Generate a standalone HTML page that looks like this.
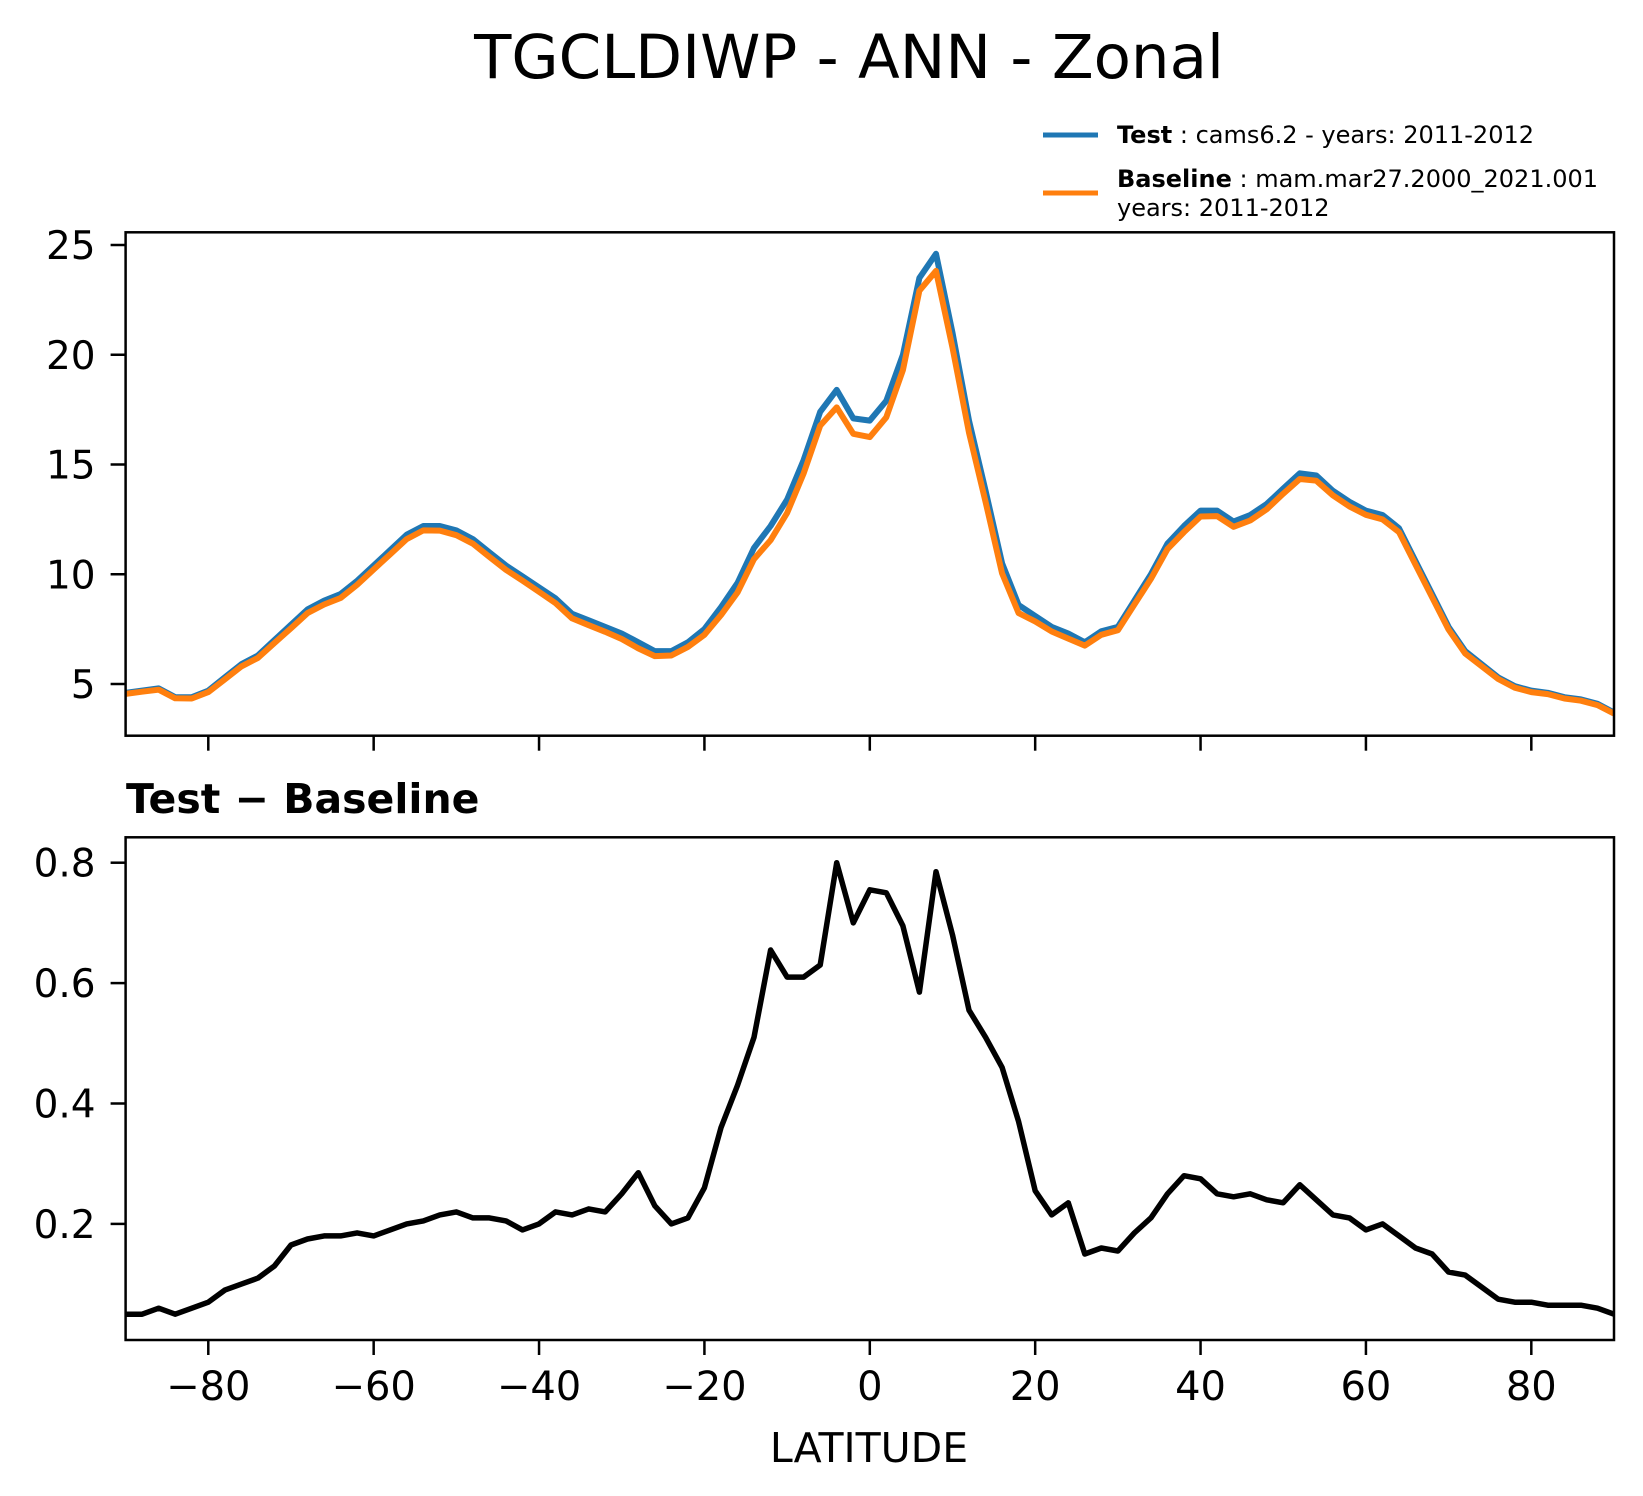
<!DOCTYPE html>
<html><head><meta charset="utf-8"><style>
html,body{margin:0;padding:0;background:#fff;}
svg{display:block;font-family:"DejaVu Sans","Liberation Sans",sans-serif;}
</style></head><body>
<svg id="fig" width="1643" height="1496" viewBox="0 0 1643 1496">
<text x="849" y="78" font-size="61" text-anchor="middle">TGCLDIWP - ANN - Zonal</text>
<g>
<line x1="1043" y1="135" x2="1098" y2="135" stroke="#1f77b4" stroke-width="5"/>
<text x="1117" y="143" font-size="24"><tspan font-weight="bold">Test</tspan> : cams6.2 - years: 2011-2012</text>
<line x1="1043" y1="193" x2="1098" y2="193" stroke="#ff7f0e" stroke-width="5"/>
<text x="1117" y="187" font-size="24"><tspan font-weight="bold">Baseline</tspan> : mam.mar27.2000_2021.001</text>
<text x="1117" y="216" font-size="24">years: 2011-2012</text>
</g>
<text x="126" y="813" font-size="41" font-weight="bold">Test − Baseline</text>
<text x="869" y="1462" font-size="41" text-anchor="middle">LATITUDE</text>
<g id="top"></g>
<g id="bot"></g>
</svg>
<script>
const lats = [-90,-88,-86,-84,-82,-80,-78,-76,-74,-72,-70,-68,-66,-64,-62,-60,-58,-56,-54,-52,-50,-48,-46,-44,-42,-40,-38,-36,-34,-32,-30,-28,-26,-24,-22,-20,-18,-16,-14,-12,-10,-8,-6,-4,-2,0,2,4,6,8,10,12,14,16,18,20,22,24,26,28,30,32,34,36,38,40,42,44,46,48,50,52,54,56,58,60,62,64,66,68,70,72,74,76,78,80,82,84,86,88,90];
const testVals = [4.6,4.7,4.8,4.4,4.4,4.7,5.3,5.9,6.3,7.0,7.7,8.4,8.8,9.1,9.7,10.4,11.1,11.8,12.2,12.2,12.0,11.6,11.0,10.4,9.9,9.4,8.9,8.2,7.9,7.6,7.3,6.9,6.5,6.5,6.9,7.5,8.5,9.6,11.2,12.2,13.4,15.2,17.4,18.4,17.1,17.0,17.9,20.0,23.5,24.6,21.0,17.0,13.8,10.5,8.6,8.1,7.6,7.3,6.9,7.4,7.6,8.8,10.0,11.4,12.2,12.9,12.9,12.4,12.7,13.2,13.9,14.6,14.5,13.8,13.3,12.9,12.7,12.1,10.6,9.1,7.6,6.5,5.9,5.3,4.9,4.7,4.6,4.4,4.3,4.1,3.7];
const baseVals = [4.55,4.65,4.74,4.35,4.34,4.63,5.21,5.8,6.19,6.87,7.54,8.23,8.62,8.92,9.52,10.22,10.91,11.6,12.0,11.99,11.78,11.39,10.79,10.2,9.71,9.2,8.68,7.99,7.68,7.38,7.05,6.62,6.27,6.3,6.69,7.24,8.14,9.17,10.69,11.55,12.79,14.59,16.77,17.6,16.4,16.25,17.15,19.3,22.92,23.82,20.32,16.45,13.29,10.04,8.23,7.85,7.39,7.07,6.75,7.24,7.45,8.62,9.79,11.15,11.92,12.63,12.65,12.16,12.45,12.96,13.67,14.34,14.26,13.59,13.09,12.71,12.5,11.92,10.44,8.95,7.48,6.39,5.81,5.23,4.83,4.63,4.54,4.34,4.24,4.04,3.65];
const diffVals = [0.05,0.05,0.06,0.05,0.06,0.07,0.09,0.10,0.11,0.13,0.165,0.175,0.18,0.18,0.185,0.18,0.19,0.20,0.205,0.215,0.22,0.21,0.21,0.205,0.19,0.20,0.22,0.215,0.225,0.22,0.25,0.285,0.23,0.20,0.21,0.26,0.36,0.43,0.51,0.655,0.61,0.61,0.63,0.80,0.70,0.755,0.75,0.695,0.585,0.785,0.68,0.555,0.51,0.46,0.37,0.255,0.215,0.235,0.15,0.16,0.155,0.185,0.21,0.25,0.28,0.275,0.25,0.245,0.25,0.24,0.235,0.265,0.24,0.215,0.21,0.19,0.20,0.18,0.16,0.15,0.12,0.115,0.095,0.075,0.07,0.07,0.065,0.065,0.065,0.06,0.05];
const xTicks = [-80,-60,-40,-20,0,20,40,60,80];
const xTickLabels = ["−80","−60","−40","−20","0","20","40","60","80"];
const topTicks = [5,10,15,20,25];
const botTicks = [0.2,0.4,0.6,0.8];
const botTickLabels = ["0.2","0.4","0.6","0.8"];

const NS = "http://www.w3.org/2000/svg";
const X0 = 125.6, X1 = 1614;
function xs(v){ return X0 + (v + 90) / 180 * (X1 - X0); }
function yTop(v){ return 684 - (v - 5) * 21.95; }
function yBot(v){ return 862.7 - (v - 0.8) * 602; }
function mk(tag, attrs, parent){ const e = document.createElementNS(NS, tag); for (const k in attrs) e.setAttribute(k, attrs[k]); parent.appendChild(e); return e; }

function panel(g, top, bottom, yf, ticks, labels, series, showXLabels, clipId){
  const defs = mk('defs', {}, g);
  const cp = mk('clipPath', {id: clipId}, defs);
  mk('rect', {x: X0, y: top, width: X1 - X0, height: bottom - top}, cp);
  series.forEach(s => {
    const pts = lats.map((la, i) => xs(la).toFixed(1) + ',' + yf(s.vals[i]).toFixed(1)).join(' ');
    const pl = mk('polyline', {points: pts, fill: 'none', stroke: s.color, 'stroke-width': s.w, 'stroke-linejoin': 'round', 'clip-path': 'url(#' + clipId + ')'}, g);
    
    
  });
  const fr = mk('rect', {x: X0, y: top, width: X1 - X0, height: bottom - top, fill: 'none', stroke: '#000', 'stroke-width': 2.5}, g);
  
  
  ticks.forEach((t, i) => {
    const y = yf(t);
    mk('line', {x1: X0 - 15, y1: y, x2: X0, y2: y, stroke: '#000', 'stroke-width': 2.5}, g);
    const tx = mk('text', {x: X0 - 30, y: y + 14, 'font-size': 39, 'text-anchor': 'end'}, g);
    tx.textContent = labels[i];
    
    
  });
  xTicks.forEach((t, i) => {
    const x = xs(t);
    mk('line', {x1: x, y1: bottom, x2: x, y2: bottom + 15, stroke: '#000', 'stroke-width': 2.5}, g);
    if (showXLabels) {
      const tx = mk('text', {x: x, y: bottom + 60, 'font-size': 40, 'text-anchor': 'middle'}, g);
      tx.textContent = xTickLabels[i];
      
      
    }
  });
}
panel(document.getElementById('top'), 232.3, 735.7, yTop, topTicks, topTicks.map(String),
  [{vals: testVals, color: '#1f77b4', w: 6, name: 'test-line'}, {vals: baseVals, color: '#ff7f0e', w: 6, name: 'baseline-line'}], false, 'cTop');
panel(document.getElementById('bot'), 837.3, 1340, yBot, botTicks, botTickLabels,
  [{vals: diffVals, color: '#000', w: 5.5, name: 'difference-line'}], true, 'cBot');
</script>
</body></html>
